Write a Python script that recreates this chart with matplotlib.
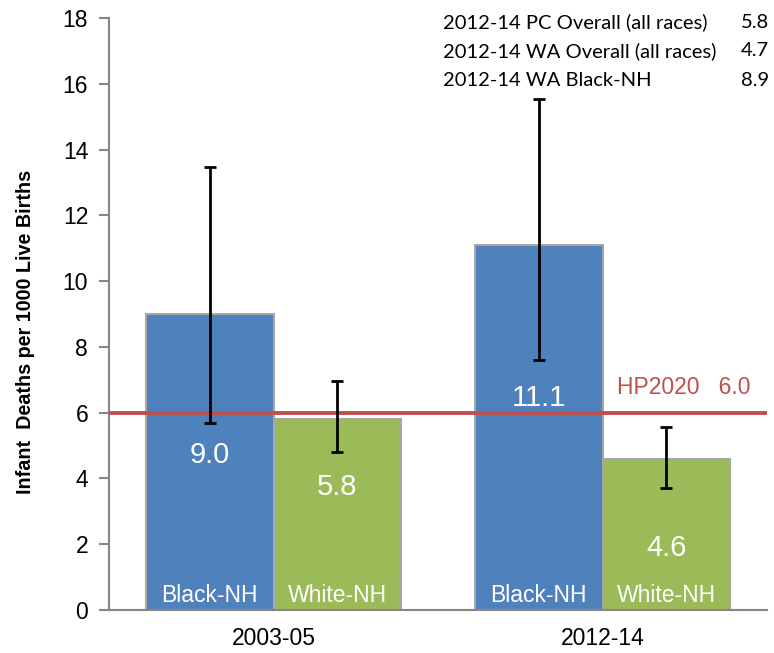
import matplotlib
matplotlib.use("Agg")
import matplotlib.pyplot as plt
import numpy as np

periods = ["2003-05", "2012-14"]
groups = ["Black-NH", "White-NH"]
black_vals = [9.0, 11.1]
white_vals = [5.8, 4.6]
black_lo = [5.68, 7.6]
black_hi = [13.47, 15.53]
white_lo = [4.8, 3.71]
white_hi = [6.96, 5.56]
hp2020 = 6.0
notes = ["2012-14 PC Overall (all races)", "2012-14 WA Overall (all races)", "2012-14 WA Black-NH"]
note_vals = [5.8, 4.7, 8.9]

plt.rcParams['font.family'] = ['Liberation Sans', 'DejaVu Sans']

fig = plt.figure(figsize=(7.74, 6.53), dpi=100)
ax = fig.add_axes([109/774, 1-610/653, (767-109)/774, (610-18)/653])

x = np.arange(len(periods))
w = 0.387
blue = "#4F81BD"
green = "#9BBB59"
edge = "#A6A6A6"

ax.bar(x - w/2, black_vals, w, color=blue, edgecolor=edge, linewidth=1.5, zorder=2)
ax.bar(x + w/2, white_vals, w, color=green, edgecolor=edge, linewidth=1.5, zorder=2)

ax.axhline(hp2020, color="#C0504D", linewidth=2.8, zorder=3)

bv = np.array(black_vals); wv = np.array(white_vals)
ax.errorbar(x - w/2, bv, yerr=[bv - np.array(black_lo), np.array(black_hi) - bv],
            fmt='none', ecolor='black', elinewidth=2, capsize=4.5, capthick=2, zorder=4)
ax.errorbar(x + w/2, wv, yerr=[wv - np.array(white_lo), np.array(white_hi) - wv],
            fmt='none', ecolor='black', elinewidth=2, capsize=4.5, capthick=2, zorder=4)

# value labels
black_label_y = [4.7, 6.45]
white_label_y = [3.74, 1.9]
for i in range(len(periods)):
    ax.text(x[i] - w/2, black_label_y[i], f"{black_vals[i]:.1f}", color="white",
            fontsize=21, ha="center", va="center", zorder=5)
    ax.text(x[i] + w/2, white_label_y[i], f"{white_vals[i]:.1f}", color="white",
            fontsize=21, ha="center", va="center", zorder=5)
    ax.text(x[i] - w/2, 0.45, groups[0], color="white", fontsize=16.5,
            ha="center", va="center", zorder=5)
    ax.text(x[i] + w/2, 0.45, groups[1], color="white", fontsize=16.5,
            ha="center", va="center", zorder=5)

ax.text(1.045, 6.75, f"HP2020   {hp2020:.1f}", color="#C0504D", fontsize=16.5,
        ha="left", va="center", zorder=5)

# notes top right
for i, (t, v) in enumerate(zip(notes, note_vals)):
    fig.text(443/774, 1 - (22 + 29*i)/653, t, fontsize=14.5, family=['Lato', 'DejaVu Sans'],
             ha="left", va="center")
    fig.text(769/774, 1 - (22 + 29*i)/653, f"{v:.1f}", fontsize=14.5, family=['Lato', 'DejaVu Sans'],
             ha="right", va="center")

ax.set_xlim(-0.5, 1.5)
ax.set_ylim(0, 18)
ax.set_yticks(np.arange(0, 19, 2))
ax.set_xticks(x)
ax.set_xticklabels(periods, fontsize=16.5)
ax.tick_params(axis='x', length=0, pad=12)
ax.tick_params(axis='y', labelsize=16.5, length=7, width=1.5, color="#868686", pad=8)
for s in ["top", "right"]:
    ax.spines[s].set_visible(False)
for s in ["left", "bottom"]:
    ax.spines[s].set_color("#868686")
    ax.spines[s].set_linewidth(1.5)

ax.set_ylabel("Infant  Deaths per 1000 Live Births", fontsize=14.2, fontweight="bold")
ax.yaxis.set_label_coords(-0.113, 0.47)

fig.savefig("out.png", dpi=100)
